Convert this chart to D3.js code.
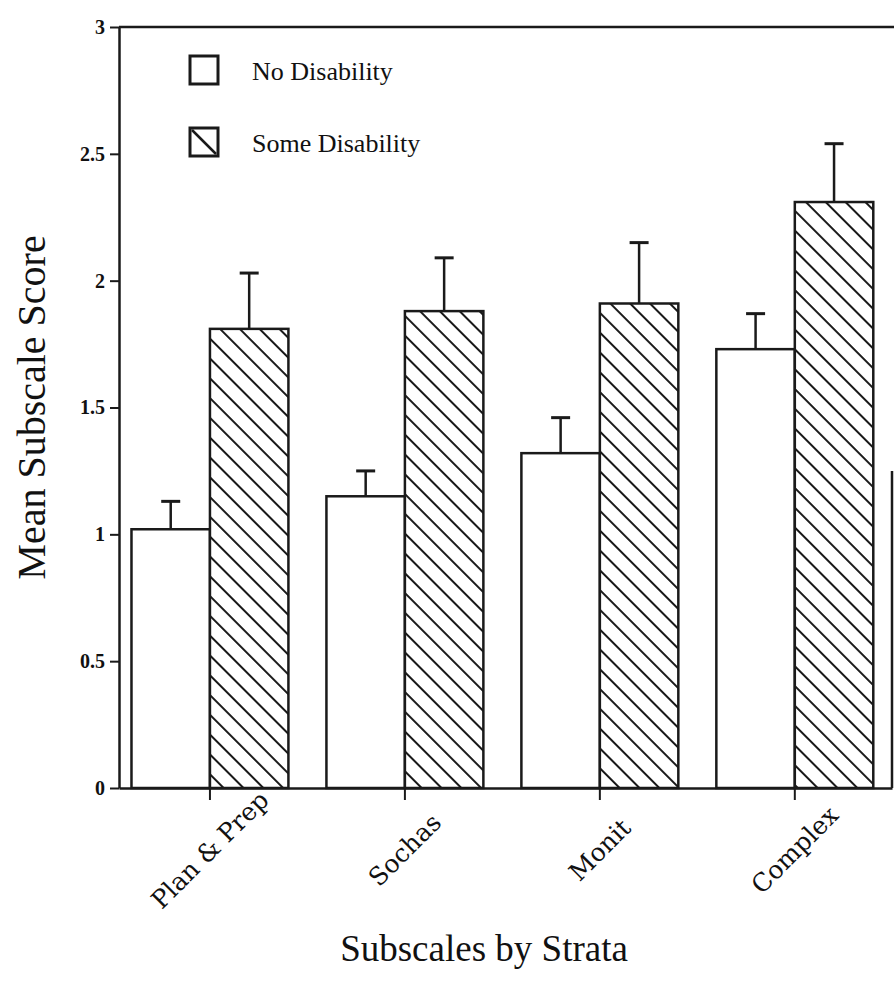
<!DOCTYPE html>
<html>
<head>
<meta charset="utf-8">
<script src="https://cdn.jsdelivr.net/npm/d3@7"></script>
<style>
  html, body { margin: 0; padding: 0; background: #fff; }
</style>
</head>
<body>
<div id="chart"></div>
<script>
// Data
const categories = ["Plan & Prep", "Sochas", "Monit", "Complex"];
const groups = ["No Disability", "Some Disability"];
const noDisabilityMean = [1.02, 1.15, 1.32, 1.73];
const noDisabilityUpper = [1.13, 1.25, 1.46, 1.87];
const someDisabilityMean = [1.81, 1.88, 1.91, 2.31];
const someDisabilityUpper = [2.03, 2.09, 2.15, 2.54];
const yTicks = [0, 0.5, 1, 1.5, 2, 2.5, 3];

const width = 894;
const height = 987;

const bars = [];
categories.forEach((c, i) => {
  bars.push({ cat: c, group: groups[0], value: noDisabilityMean[i], upper: noDisabilityUpper[i] });
  bars.push({ cat: c, group: groups[1], value: someDisabilityMean[i], upper: someDisabilityUpper[i] });
});

const svg = d3
  .select("#chart")
  .append("svg")
  .attr("width", width)
  .attr("height", height)
  .style("display", "block");

// Scales
const x = d3
  .scaleBand()
  .domain(categories)
  .range([119, 892])
  .paddingInner(0.195)
  .paddingOuter(0.08)
  .align(0.4);

const xSub = d3.scaleBand().domain(groups).range([0, x.bandwidth()]);

const y = d3.scaleLinear().domain([0, 3]).range([788, 27]);

// Hatch pattern
const defs = svg.append("defs");
const pattern = defs
  .append("pattern")
  .attr("id", "hatch")
  .attr("patternUnits", "userSpaceOnUse")
  .attr("width", 14)
  .attr("height", 14)
  .attr("patternTransform", "rotate(45)");
pattern.append("rect").attr("width", 14).attr("height", 14).attr("fill", "#fff");
pattern
  .append("line")
  .attr("x1", 0)
  .attr("y1", 7)
  .attr("x2", 14)
  .attr("y2", 7)
  .attr("stroke", "#1a1a1a")
  .attr("stroke-width", 2);

// Frame: top line and partial right edge
svg
  .append("line")
  .attr("x1", x.range()[0])
  .attr("x2", width)
  .attr("y1", y(3))
  .attr("y2", y(3))
  .attr("stroke", "#1a1a1a")
  .attr("stroke-width", 2.5);

svg
  .append("line")
  .attr("x1", x.range()[1])
  .attr("x2", x.range()[1])
  .attr("y1", y(1.25))
  .attr("y2", y(0))
  .attr("stroke", "#1a1a1a")
  .attr("stroke-width", 2.5);

// Bars
svg
  .append("g")
  .selectAll("rect")
  .data(bars)
  .enter()
  .append("rect")
  .attr("x", (d) => x(d.cat) + xSub(d.group))
  .attr("y", (d) => y(d.value))
  .attr("width", xSub.bandwidth())
  .attr("height", (d) => y(0) - y(d.value))
  .attr("fill", (d) => (d.group === groups[0] ? "#fff" : "url(#hatch)"))
  .attr("stroke", "#1a1a1a")
  .attr("stroke-width", 2.5);

// Error bars (upper only)
const err = svg
  .append("g")
  .selectAll("g")
  .data(bars)
  .enter()
  .append("g")
  .attr("transform", (d) => `translate(${x(d.cat) + xSub(d.group) + xSub.bandwidth() / 2},0)`);

err
  .append("line")
  .attr("y1", (d) => y(d.value))
  .attr("y2", (d) => y(d.upper))
  .attr("stroke", "#1a1a1a")
  .attr("stroke-width", 2.5);

err
  .append("line")
  .attr("x1", -9.5)
  .attr("x2", 9.5)
  .attr("y1", (d) => y(d.upper))
  .attr("y2", (d) => y(d.upper))
  .attr("stroke", "#1a1a1a")
  .attr("stroke-width", 3);

// Axes
const yAxis = svg
  .append("g")
  .attr("transform", `translate(${x.range()[0]},0)`)
  .call(
    d3
      .axisLeft(y)
      .tickValues(yTicks)
      .tickSize(9)
      .tickSizeOuter(0)
      .tickPadding(5)
      .tickFormat((d) => String(d))
  );
yAxis.select(".domain").attr("stroke", "#1a1a1a").attr("stroke-width", 2.5);
yAxis.selectAll(".tick line").attr("stroke", "#1a1a1a").attr("stroke-width", 2);
yAxis
  .selectAll(".tick text")
  .attr("fill", "#111")
  .style("font-family", "'Liberation Serif', 'Times New Roman', serif")
  .style("font-size", "20px")
  .style("font-weight", "bold");

const xAxis = svg
  .append("g")
  .attr("transform", `translate(0,${y(0)})`)
  .call(d3.axisBottom(x).tickSize(12).tickSizeOuter(0).tickFormat(""));
xAxis.select(".domain").attr("stroke", "#1a1a1a").attr("stroke-width", 2.5);
xAxis.selectAll(".tick line").attr("stroke", "#1a1a1a").attr("stroke-width", 2);

// Rotated category labels
svg
  .append("g")
  .selectAll("text")
  .data(categories)
  .enter()
  .append("text")
  .attr("transform", (d) => `translate(${x(d) + x.bandwidth() / 2},850) rotate(-45)`)
  .attr("text-anchor", "middle")
  .attr("dominant-baseline", "central")
  .style("font-family", "'DejaVu Serif', serif")
  .style("font-size", "25px")
  .attr("fill", "#111")
  .text((d) => d);

// Axis titles
svg
  .append("text")
  .attr("transform", `translate(45,${(y(0) + y(3)) / 2}) rotate(-90)`)
  .attr("text-anchor", "middle")
  .style("font-family", "'Liberation Serif', 'Times New Roman', serif")
  .style("font-size", "40px")
  .attr("fill", "#111")
  .text("Mean Subscale Score");

svg
  .append("text")
  .attr("x", 484)
  .attr("y", 961)
  .attr("text-anchor", "middle")
  .style("font-family", "'Liberation Serif', 'Times New Roman', serif")
  .style("font-size", "37px")
  .attr("fill", "#111")
  .text("Subscales by Strata");

// Legend
const legend = svg
  .append("g")
  .selectAll("g")
  .data(groups)
  .enter()
  .append("g")
  .attr("transform", (d, i) => `translate(190,${56 + i * 72})`);

legend
  .append("rect")
  .attr("width", 28)
  .attr("height", 28)
  .attr("fill", "#fff")
  .attr("stroke", "#1a1a1a")
  .attr("stroke-width", 3);

legend
  .filter((d, i) => i === 1)
  .append("line")
  .attr("x1", 2)
  .attr("y1", 2)
  .attr("x2", 26)
  .attr("y2", 26)
  .attr("stroke", "#1a1a1a")
  .attr("stroke-width", 2.5);

legend
  .append("text")
  .attr("x", 62)
  .attr("y", 24)
  .style("font-family", "'Liberation Serif', 'Times New Roman', serif")
  .style("font-size", "26px")
  .attr("fill", "#111")
  .text((d) => d);
</script>
</body>
</html>
